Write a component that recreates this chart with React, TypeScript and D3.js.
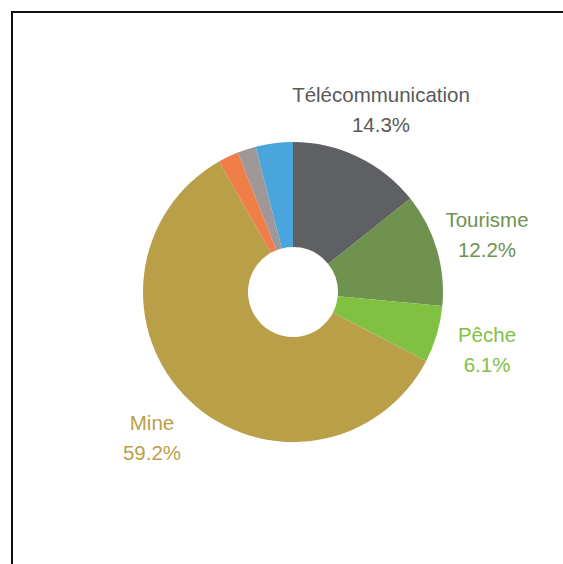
import React from "react";
import * as d3 from "d3";

const categories = ["Télécommunication", "Tourisme", "Pêche", "Mine", "Autre 1", "Autre 2", "Autre 3"];
const values = [14.3, 12.2, 6.1, 59.2, 2.2, 2.0, 4.0];
const colors = ["#5f6064", "#6f924f", "#81c142", "#b99f48", "#f07e48", "#a09898", "#4aa5dd"];
const labelShown = [true, true, true, true, false, false, false];

const W = 563, H = 564;
const cx = 293, cy = 292, R = 150, r0 = 45;

// label anchor positions (centre x, baseline of name)
const labelPos: Record<string, [number, number]> = {
  "Télécommunication": [381, 102],
  "Tourisme": [487, 227],
  "Pêche": [487, 342],
  "Mine": [152, 430],
};

export default function App() {
  const pie = d3.pie<number>().sort(null).value((d) => d);
  const arcs = pie(values);
  const arc = d3.arc<d3.PieArcDatum<number>>().innerRadius(r0).outerRadius(R);
  return (
    <svg width={W} height={H} style={{ position: "absolute", left: 0, top: 0, display: "block" }}>
      <rect x={0} y={0} width={W} height={H} fill="#fff" />
      <line x1={11} y1={12} x2={W} y2={12} stroke="#111" strokeWidth={2} />
      <line x1={12} y1={11} x2={12} y2={H} stroke="#111" strokeWidth={2} />
      <g transform={`translate(${cx},${cy})`}>
        {arcs.map((a, i) => (
          <path key={i} d={arc(a) || ""} fill={colors[i]} />
        ))}
      </g>
      <g fontFamily="Liberation Sans, Arial, sans-serif" fontSize={20.5} textAnchor="middle">
        {categories.map((c, i) =>
          labelShown[i] ? (
            <g key={c} fill={i === 0 ? "#595959" : colors[i]}>
              <text x={labelPos[c][0]} y={labelPos[c][1]}>{c}</text>
              <text x={labelPos[c][0]} y={labelPos[c][1] + 30}>{values[i].toFixed(1)}%</text>
            </g>
          ) : null
        )}
      </g>
    </svg>
  );
}
